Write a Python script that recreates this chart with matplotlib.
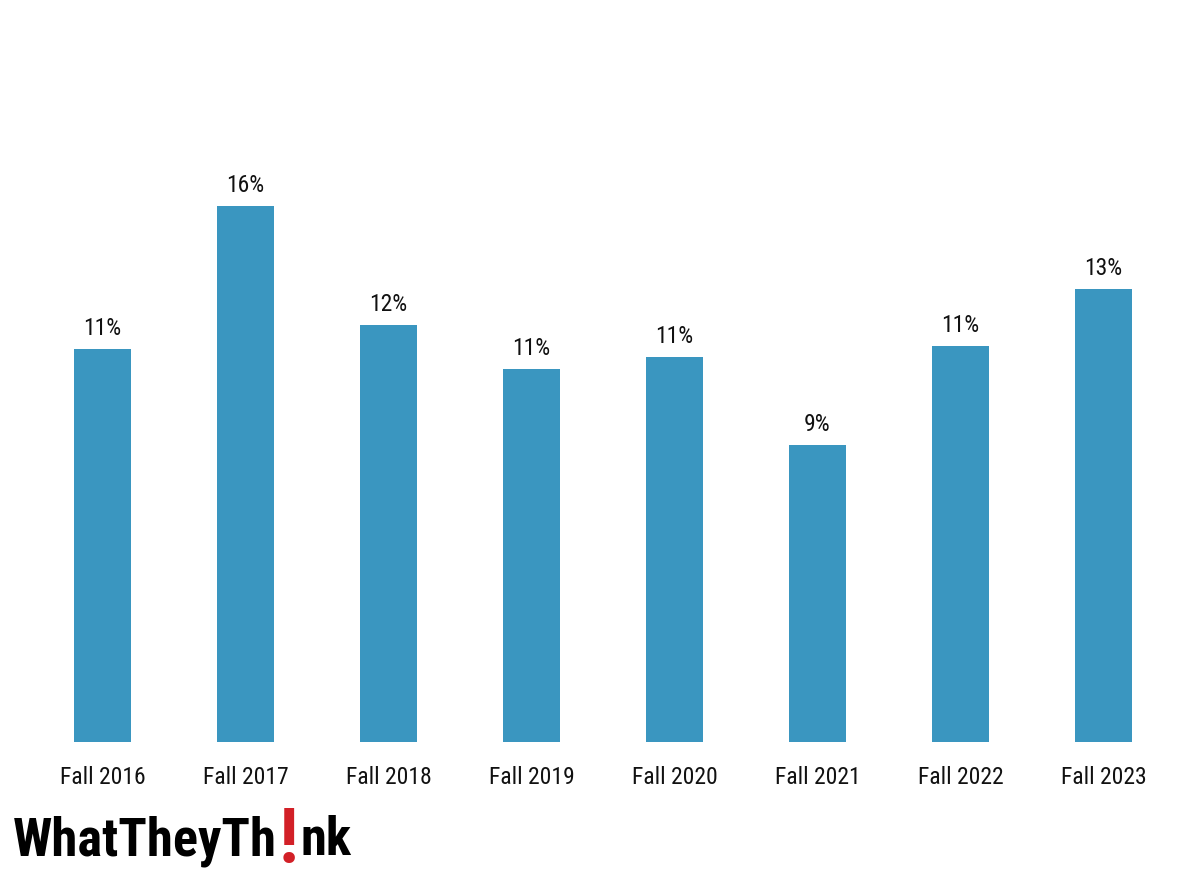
import matplotlib
matplotlib.use('Agg')
import matplotlib.pyplot as plt
import numpy as np
from matplotlib import font_manager

categories = ['Fall 2016', 'Fall 2017', 'Fall 2018', 'Fall 2019',
              'Fall 2020', 'Fall 2021', 'Fall 2022', 'Fall 2023']
values = [11.39, 15.54, 12.09, 10.81, 11.16, 8.61, 11.48, 13.13]

names = {f.name for f in font_manager.fontManager.ttflist}
label_font = 'Roboto'
for cand in ['Roboto Condensed', 'Liberation Sans Narrow', 'Open Sans Condensed']:
    if cand in names:
        label_font = cand
        break

W, H = 1200, 872
fig = plt.figure(figsize=(W / 100, H / 100), dpi=100)
ax = fig.add_axes([31 / W, 1 - 742 / H, (1175 - 31) / W, (742 - 100) / H])

x = np.arange(len(categories))
bars = ax.bar(x, values, width=0.4, color='#3a96c0')
ax.set_xlim(-0.5, len(categories) - 0.5)
ax.set_ylim(0, 642 / 34.5)

lab_size = 17 if label_font != 'Roboto' else 16
for b, v in zip(bars, values):
    ax.annotate(f'{round(v)}%', (b.get_x() + b.get_width() / 2, v),
                xytext=(0, 9), textcoords='offset pixels',
                ha='center', va='bottom', fontsize=lab_size, family=label_font,
                color='#111111')

ax.set_xticks(x)
ax.set_xticklabels(categories, fontsize=lab_size, family=label_font, color='#111111')
ax.tick_params(axis='x', length=0, pad=17)
ax.set_yticks([])
for s in ax.spines.values():
    s.set_visible(False)

# logo, sized to fit the width of the original
fig.canvas.draw()
r = fig.canvas.get_renderer()
logo_y = 1 - 855 / H
parts = [('WhatTheyTh', 'black', 1.0, 0), ('!', '#d22027', 1.45, -7), ('nk', 'black', 1.0, 0)]
target = 340
base = 40
for attempt in range(2):
    xpos = 13
    texts = []
    for s, c, k, dy in parts:
        t = fig.text(xpos / W, logo_y + dy / H, s, fontsize=base * k, fontweight='heavy',
                     family=label_font, color=c, ha='left', va='baseline')
        e = t.get_window_extent(r)
        xpos = e.x1 + 2
        texts.append(t)
    total = xpos - 13
    if attempt == 0:
        for t in texts:
            t.remove()
        base = base * target / total

fig.savefig('out.png', dpi=100, facecolor='white')
